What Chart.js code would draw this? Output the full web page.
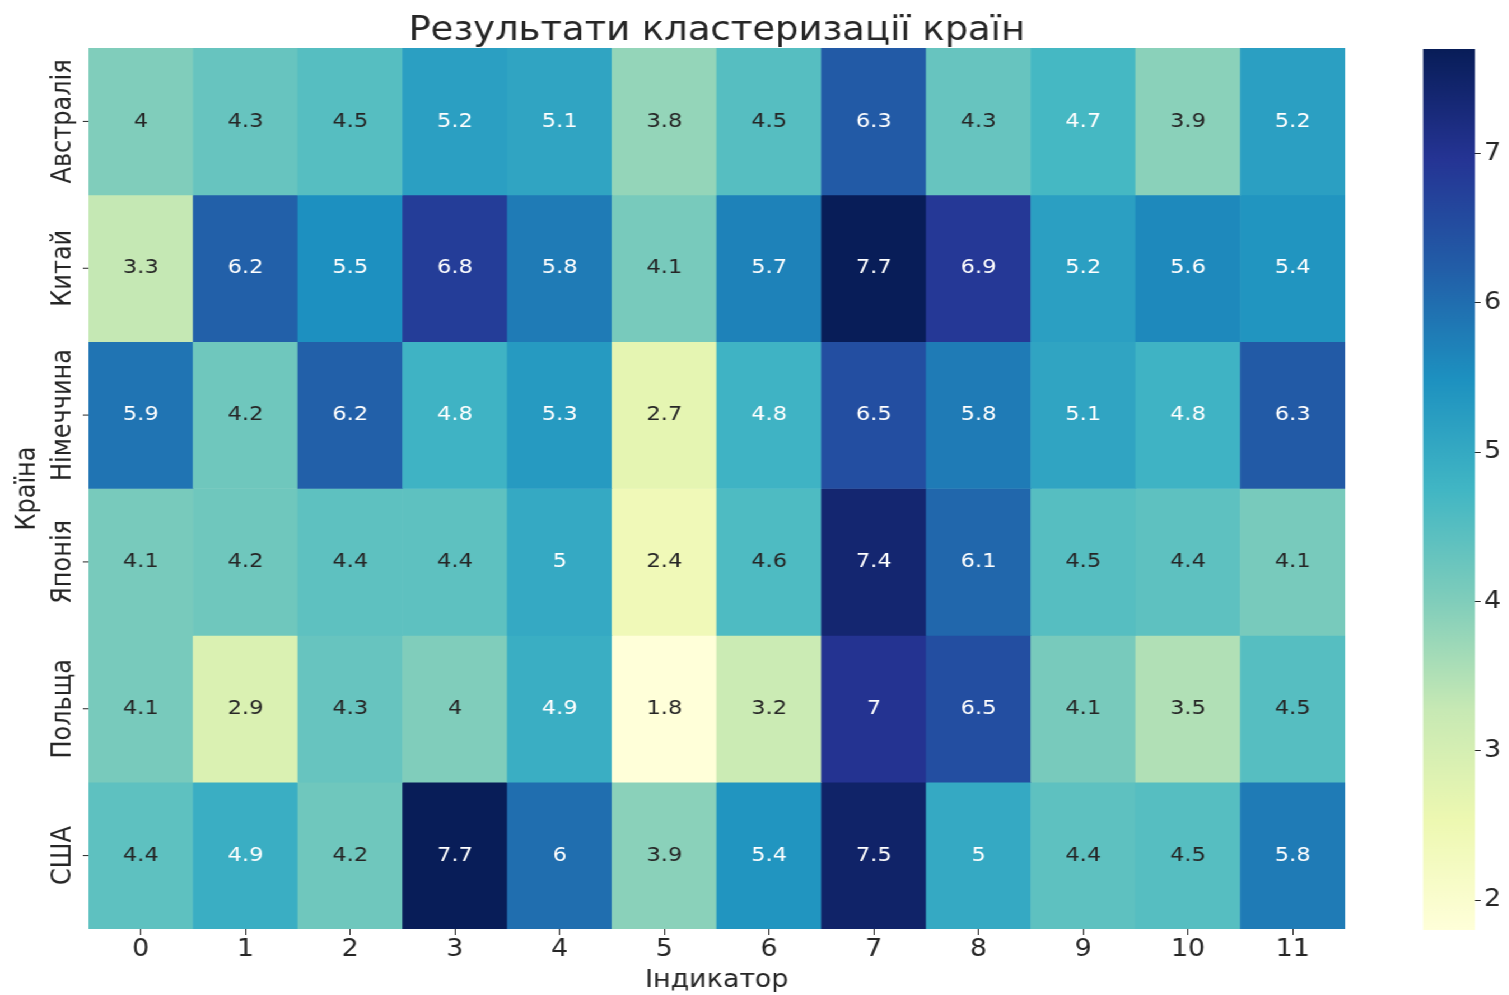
<!DOCTYPE html>
<html lang="uk">
<head>
  <meta charset="UTF-8" />
  <title>Результати кластеризації країн</title>
  <script src="https://cdn.jsdelivr.net/npm/chart.js"></script>
  <style>
    html, body { margin: 0; padding: 0; background: #fff; overflow: hidden; }
    /* the reference picture is stretched sideways, so draw narrower and widen the whole thing */
    #wrap {
      position: relative; width: 1348px; height: 995px;
      transform: scaleX(1.12); transform-origin: 0 0;
    }
    #heat { position: absolute; left: 0; top: 0; }
    #bar { position: absolute; left: 1250px; top: 0; }
  </style>
</head>
<body>
  <div id="wrap">
    <canvas id="heat" width="1280" height="995"></canvas>
    <canvas id="bar" width="98" height="995"></canvas>
  </div>

  <script>
    // data
    const countries = ['Австралія', 'Китай', 'Німеччина', 'Японія', 'Польща', 'США'];
    const indicators = ['0', '1', '2', '3', '4', '5', '6', '7', '8', '9', '10', '11'];
    const australia = [4.0, 4.3, 4.5, 5.2, 5.1, 3.8, 4.5, 6.3, 4.3, 4.7, 3.9, 5.2];
    const china     = [3.3, 6.2, 5.5, 6.8, 5.8, 4.1, 5.7, 7.7, 6.9, 5.2, 5.6, 5.4];
    const germany   = [5.9, 4.2, 6.2, 4.8, 5.3, 2.7, 4.8, 6.5, 5.8, 5.1, 4.8, 6.3];
    const japan     = [4.1, 4.2, 4.4, 4.4, 5.0, 2.4, 4.6, 7.4, 6.1, 4.5, 4.4, 4.1];
    const poland    = [4.1, 2.9, 4.3, 4.0, 4.9, 1.8, 3.2, 7.0, 6.5, 4.1, 3.5, 4.5];
    const usa       = [4.4, 4.9, 4.2, 7.7, 6.0, 3.9, 5.4, 7.5, 5.0, 4.4, 4.5, 5.8];
    const rows = [australia, china, germany, japan, poland, usa];
    const colorbarTicks = [2, 3, 4, 5, 6, 7];

    const vmin = Math.min(...rows.flat());
    const vmax = Math.max(...rows.flat());

    // YlGnBu
    const cmap = ['#ffffd9', '#edf8b1', '#c7e9b4', '#7fcdbb', '#41b6c4', '#1d91c0', '#225ea8', '#253494', '#081d58'];
    const hexRgb = h => [1, 3, 5].map(i => parseInt(h.substr(i, 2), 16));

    function colorRgb(v) {
      let t = (v - vmin) / (vmax - vmin);
      t = Math.max(0, Math.min(1, t)) * (cmap.length - 1);
      const i = Math.min(Math.floor(t), cmap.length - 2);
      const f = t - i;
      const a = hexRgb(cmap[i]), b = hexRgb(cmap[i + 1]);
      return a.map((c, k) => Math.round(c + (b[k] - c) * f));
    }
    const colorFor = v => 'rgb(' + colorRgb(v).join(',') + ')';

    // same rule seaborn uses for annotation colour
    function textColor(v) {
      const lin = colorRgb(v).map(c => {
        c /= 255;
        return c <= 0.03928 ? c / 12.92 : Math.pow((c + 0.055) / 1.055, 2.4);
      });
      const lum = 0.2126 * lin[0] + 0.7152 * lin[1] + 0.0722 * lin[2];
      return lum > 0.408 ? '#262626' : '#ffffff';
    }

    const FONT = "'DejaVu Sans', sans-serif";
    const INK = '#262626';

    const annotate = {
      id: 'annotate',
      afterDatasetsDraw(chart) {
        const ctx = chart.ctx;
        ctx.save();
        ctx.font = '20px ' + FONT;
        ctx.textAlign = 'center';
        ctx.textBaseline = 'middle';
        chart.data.datasets.forEach((ds, r) => {
          chart.getDatasetMeta(r).data.forEach((el, c) => {
            const p = el.getCenterPoint();
            const v = rows[r][c];
            ctx.fillStyle = textColor(v);
            ctx.fillText(String(v), p.x, p.y);
          });
        });
        ctx.restore();
      },
      afterDraw(chart) {
        // country labels, rotated like matplotlib's y ticks
        const ctx = chart.ctx;
        const y = chart.scales.y;
        const left = chart.chartArea.left;
        ctx.save();
        ctx.strokeStyle = INK;
        ctx.lineWidth = 1;
        ctx.fillStyle = INK;
        ctx.font = '24px ' + FONT;
        ctx.textAlign = 'center';
        ctx.textBaseline = 'middle';
        countries.forEach((name, r) => {
          const py = y.getPixelForValue(r + 0.5);
          ctx.beginPath();
          ctx.moveTo(left - 5, py);
          ctx.lineTo(left, py);
          ctx.stroke();
          ctx.save();
          ctx.translate(57, py);
          ctx.rotate(-Math.PI / 2);
          ctx.fillText(name, 0, 0);
          ctx.restore();
        });
        ctx.restore();
      }
    };

    new Chart(document.getElementById('heat'), {
      type: 'bar',
      data: {
        labels: indicators,
        datasets: rows.map((vals, r) => ({
          label: countries[r],
          data: vals.map(() => [r, r + 1]),
          backgroundColor: vals.map(colorFor),
          borderWidth: 0,
          barPercentage: 1,
          categoryPercentage: 1,
          grouped: false
        }))
      },
      options: {
        responsive: false,
        animation: false,
        layout: { padding: 0 },
        plugins: {
          legend: { display: false },
          tooltip: { enabled: false },
          title: {
            display: true,
            text: 'Результати кластеризації країн',
            color: INK,
            font: { family: FONT, size: 33, weight: 'normal', lineHeight: 1 },
            padding: { top: 15, bottom: 0 }
          }
        },
        scales: {
          x: {
            grid: { display: true, drawOnChartArea: false, offset: false, tickLength: 6, color: INK },
            border: { display: false },
            ticks: { color: INK, font: { family: FONT, size: 24 }, padding: 0, maxRotation: 0 },
            title: {
              display: true, text: 'Індикатор', color: INK,
              font: { family: FONT, size: 24 }, padding: { top: 0, bottom: 0 }
            },
            afterFit: s => { s.height = 66; }
          },
          y: {
            type: 'linear',
            min: 0,
            max: 6,
            reverse: true,
            grid: { display: false },
            border: { display: false },
            ticks: { display: false },
            title: {
              display: true, text: 'Країна', color: INK,
              font: { family: FONT, size: 24 }, padding: { top: 10.6, bottom: 0 }
            },
            afterFit: s => { s.width = 79; }
          },
          // empty right margin, keeps the title centred over the cells
          spacer: {
            type: 'linear',
            position: 'right',
            grid: { display: false },
            border: { display: false },
            ticks: { display: false },
            afterFit: s => { s.width = 79; }
          }
        }
      },
      plugins: [annotate]
    });

    // colour bar
    new Chart(document.getElementById('bar'), {
      type: 'bar',
      data: {
        labels: [''],
        datasets: [{
          data: [[vmin, vmax]],
          backgroundColor: c => {
            const area = c.chart.chartArea;
            if (!area) return cmap[4];
            const g = c.chart.ctx.createLinearGradient(0, area.bottom, 0, area.top);
            cmap.forEach((col, i) => g.addColorStop(i / (cmap.length - 1), col));
            return g;
          },
          borderWidth: 0,
          barPercentage: 1,
          categoryPercentage: 1
        }]
      },
      options: {
        responsive: false,
        animation: false,
        layout: { padding: { left: 20.5, right: 0, top: 49, bottom: 65 } },
        plugins: { legend: { display: false }, tooltip: { enabled: false } },
        scales: {
          x: { display: false },
          y: {
            position: 'right',
            min: vmin,
            max: vmax,
            afterBuildTicks: s => { s.ticks = colorbarTicks.map(v => ({ value: v })); },
            grid: { drawOnChartArea: false, tickLength: 5, color: INK },
            border: { display: false },
            ticks: { color: INK, font: { family: FONT, size: 24 }, padding: 3 },
            afterFit: s => { s.width = 31; }
          }
        }
      }
    });
  </script>
</body>
</html>
